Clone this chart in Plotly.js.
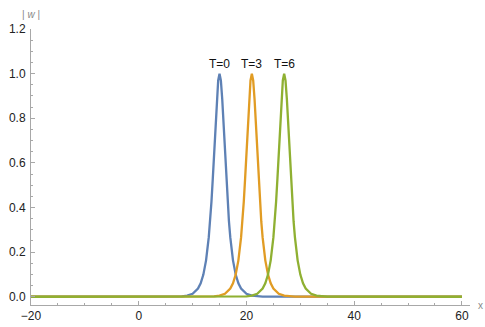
<!DOCTYPE html>
<html>
<head>
<meta charset="utf-8">
<script src="https://cdn.plot.ly/plotly-3.0.1.min.js"></script>
<style>html,body{margin:0;padding:0;background:#fff;}#chart{width:485px;height:327px;}</style>
</head>
<body>
<div id="chart"></div>
<script>
// T=0 curve (peak at x=15)
var xT0 = [-20, 5, 7, 8, 9, 10, 11, 11.5, 12, 12.5, 13, 13.25, 13.5, 13.75, 14, 14.25, 14.5, 14.75, 15,
           15.25, 15.5, 15.75, 16, 16.25, 16.5, 16.75, 17, 17.5, 18, 18.5, 19, 20, 21, 22, 23, 25, 60];
var yT0 = [0, 0.0001, 0.0007, 0.0018, 0.005, 0.0135, 0.0366, 0.0603, 0.0993, 0.1631, 0.2658, 0.3374, 0.4251, 0.5295, 0.6481, 0.7724, 0.8868, 0.9695, 1,
           0.9695, 0.8868, 0.7724, 0.6481, 0.5295, 0.4251, 0.3374, 0.2658, 0.1631, 0.0993, 0.0603, 0.0366, 0.0135, 0.005, 0.0018, 0.0007, 0.0001, 0];
// T=3 curve (peak at x=21)
var xT3 = [-20, 11, 13, 14, 15, 16, 17, 17.5, 18, 18.5, 19, 19.25, 19.5, 19.75, 20, 20.25, 20.5, 20.75, 21,
           21.25, 21.5, 21.75, 22, 22.25, 22.5, 22.75, 23, 23.5, 24, 24.5, 25, 26, 27, 28, 29, 31, 60];
var yT3 = [0, 0.0001, 0.0007, 0.0018, 0.005, 0.0135, 0.0366, 0.0603, 0.0993, 0.1631, 0.2658, 0.3374, 0.4251, 0.5295, 0.6481, 0.7724, 0.8868, 0.9695, 1,
           0.9695, 0.8868, 0.7724, 0.6481, 0.5295, 0.4251, 0.3374, 0.2658, 0.1631, 0.0993, 0.0603, 0.0366, 0.0135, 0.005, 0.0018, 0.0007, 0.0001, 0];
// T=6 curve (peak at x=27)
var xT6 = [-20, 17, 19, 20, 21, 22, 23, 23.5, 24, 24.5, 25, 25.25, 25.5, 25.75, 26, 26.25, 26.5, 26.75, 27,
           27.25, 27.5, 27.75, 28, 28.25, 28.5, 28.75, 29, 29.5, 30, 30.5, 31, 32, 33, 34, 35, 37, 60];
var yT6 = [0, 0.0001, 0.0007, 0.0018, 0.005, 0.0135, 0.0366, 0.0603, 0.0993, 0.1631, 0.2658, 0.3374, 0.4251, 0.5295, 0.6481, 0.7724, 0.8868, 0.9695, 1,
           0.9695, 0.8868, 0.7724, 0.6481, 0.5295, 0.4251, 0.3374, 0.2658, 0.1631, 0.0993, 0.0603, 0.0366, 0.0135, 0.005, 0.0018, 0.0007, 0.0001, 0];

var labels = ["T=0", "T=3", "T=6"];
var peakX = [15, 21, 27];
var peakY = [1, 1, 1];
var xTicks = [-20, 0, 20, 40, 60];
var yTicks = [0, 0.2, 0.4, 0.6, 0.8, 1.0, 1.2];
var yTickText = ["0.0", "0.2", "0.4", "0.6", "0.8", "1.0", "1.2"];

var colors = ["#5E81B5", "#E19C24", "#8FB032"];
var xs = [xT0, xT3, xT6], ys = [yT0, yT3, yT6];
var traces = xs.map(function (x, i) {
  return {x: x, y: ys[i], type: "scatter", mode: "lines",
          line: {color: colors[i], width: 2.3}, hoverinfo: "skip", showlegend: false};
});

var annotations = labels.map(function (t, i) {
  return {x: peakX[i], y: peakY[i], xref: "x", yref: "y", text: t, showarrow: false,
          yanchor: "bottom", yshift: 1, font: {family: "Liberation Sans, Arial, sans-serif", size: 12, color: "#111"}};
});
annotations.push({xref: "paper", yref: "paper", x: 0.0, y: 1.0, xanchor: "center", yanchor: "bottom", yshift: 7,
  text: "| <i>w</i> |", showarrow: false, font: {family: "Liberation Sans, Arial, sans-serif", size: 10, color: "#888"}});
annotations.push({xref: "paper", yref: "paper", x: 1.0, y: 0.0, xanchor: "left", yanchor: "middle", xshift: 6,
  text: "x", showarrow: false, font: {family: "Liberation Sans, Arial, sans-serif", size: 10, color: "#888"}});

var axisFont = {family: "Liberation Sans, Arial, sans-serif", size: 12, color: "#222"};
var layout = {
  width: 485, height: 327,
  margin: {l: 31, r: 15, t: 29, b: 22, pad: 0},
  paper_bgcolor: "#fff", plot_bgcolor: "#fff",
  xaxis: {range: [-20, 61.5], tickvals: xTicks, showgrid: false, zeroline: false,
          showline: true, linecolor: "#a8a8a8", linewidth: 1,
          ticks: "inside", ticklen: 4, tickcolor: "#a8a8a8", tickfont: axisFont,
          minor: {dtick: 5, tick0: 0, ticks: "inside", ticklen: 2, tickcolor: "#a8a8a8", showgrid: false}},
  yaxis: {range: [-0.037, 1.2], tickvals: yTicks, ticktext: yTickText, showgrid: false, zeroline: false,
          showline: true, linecolor: "#a8a8a8", linewidth: 1,
          ticks: "inside", ticklen: 4, tickcolor: "#a8a8a8", tickfont: axisFont, ticklabelstandoff: 2,
          minor: {dtick: 0.05, tick0: 0, ticks: "inside", ticklen: 2, tickcolor: "#a8a8a8", showgrid: false}},
  annotations: annotations
};
Plotly.newPlot("chart", traces, layout, {staticPlot: true, displayModeBar: false});
</script>
</body>
</html>
